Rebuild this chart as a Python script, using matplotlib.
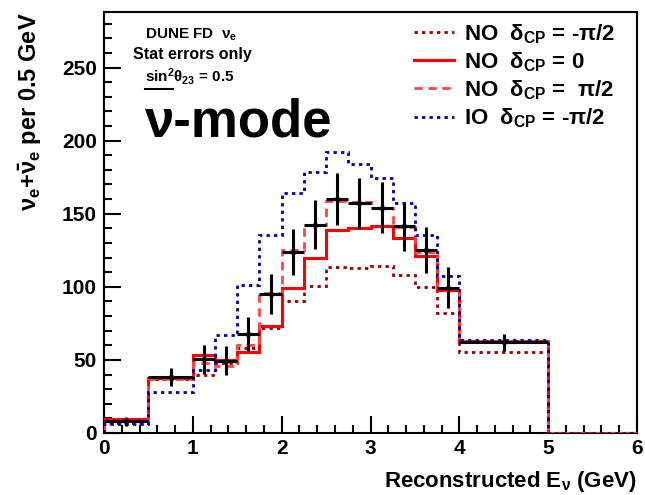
import numpy as np
import matplotlib
matplotlib.use("Agg")
import matplotlib.pyplot as plt

plt.rcParams["font.family"] = ["Liberation Sans", "DejaVu Sans"]
plt.rcParams["font.weight"] = "bold"
plt.rcParams["axes.labelweight"] = "bold"
plt.rcParams["mathtext.fontset"] = "custom"
plt.rcParams["mathtext.rm"] = "Liberation Sans:bold"
plt.rcParams["mathtext.bf"] = "Liberation Sans:bold"
plt.rcParams["mathtext.it"] = "Liberation Sans:bold"
plt.rcParams["mathtext.default"] = "regular"

# bin edges (GeV)
edges = [0, 0.5, 1.0, 1.25, 1.5, 1.75, 2.0, 2.25, 2.5, 2.75, 3.0, 3.25, 3.5, 3.75, 4.0, 5.0, 6.0]

# expected spectra, events per 0.5 GeV
no_mpi2 = [7, 37, 39.7, 47.7, 58, 72, 90, 100.5, 113.5, 113, 114, 108, 100, 82, 55.7, 0]
no_zero = [9.4, 37.5, 53.4, 50, 55.7, 73.5, 99, 119.5, 139, 140.5, 141.5, 133.5, 121, 98, 63.2, 0]
no_ppi2 = [8, 37, 48, 46, 60, 96, 125, 142.5, 159, 158, 154, 141, 124, 99, 63, 0]
io_mpi2 = [6, 28.3, 43, 67, 101, 135.5, 164.5, 178.5, 192.5, 184, 174.5, 157.5, 135.5, 107.5, 63.7, 0]

# pseudo-data points
data_x = [0.25, 0.75, 1.125, 1.375, 1.625, 1.875, 2.125, 2.375, 2.625, 2.875, 3.125, 3.375, 3.625, 3.875, 4.5]
data_xerr = [0.25, 0.25, 0.125, 0.125, 0.125, 0.125, 0.125, 0.125, 0.125, 0.125, 0.125, 0.125, 0.125, 0.125, 0.5]
data_y = [8, 38.5, 50.5, 49.5, 67.5, 95, 124, 142.5, 160, 157, 154, 141.5, 125, 99.5, 62]
data_yerr = [2.9, 6.2, 10, 10, 11.6, 13.8, 15.7, 16.9, 17.9, 17.7, 17.5, 16.8, 15.8, 14.1, 5.6]

fig = plt.figure(figsize=(6.45, 4.95), dpi=100)
ax = fig.add_axes([104 / 645, 62 / 495, 533 / 645, 421 / 495])

h1 = ax.stairs(no_mpi2, edges, color="#990000", lw=2.0, linestyle=(0, (1.2, 1.5)),
               zorder=3, label=r"NO  $\delta_{CP}$ = -$\pi$/2")
h2 = ax.stairs(no_zero, edges, color="#ff0000", lw=2.2, linestyle="-",
               zorder=3, label=r"NO  $\delta_{CP}$ = 0")
h3 = ax.stairs(no_ppi2, edges, color="#ff4444", lw=2.0, linestyle=(0, (3, 2)),
               zorder=3, label=r"NO  $\delta_{CP}$ =  $\pi$/2")
h4 = ax.stairs(io_mpi2, edges, color="#0000aa", lw=2.0, linestyle=(0, (1.2, 1.5)),
               zorder=3, label=r"IO  $\delta_{CP}$ = -$\pi$/2")

ax.errorbar(data_x, data_y, xerr=data_xerr, yerr=data_yerr, fmt="o", ms=3,
            color="black", ecolor="black", elinewidth=2.2, capsize=0, zorder=4)

ax.set_xlim(0, 6)
ax.set_ylim(0, 288)
ax.set_xticks(np.arange(0, 7, 1))
ax.set_xticks(np.arange(0, 6.01, 0.2), minor=True)
ax.set_yticks(np.arange(0, 300, 50))
ax.set_yticks(np.arange(0, 288, 10), minor=True)
ax.tick_params(which="both", direction="in", top=False, right=False, width=1.5,
               labelsize=15)
ax.tick_params(which="major", length=12)
ax.tick_params(which="minor", length=6)
ax.tick_params(axis="x", pad=4)
ax.tick_params(axis="y", pad=5)
for s in ax.spines.values():
    s.set_linewidth(1.5)

ax.set_xlabel(r"Reconstructed E$_{\nu}$ (GeV)", fontsize=16, loc="right", labelpad=8)
ax.set_ylabel(r"$\nu_{e}$+$\bar{\nu}_{e}$ per 0.5 GeV", fontsize=17, loc="top", labelpad=13)

leg = ax.legend(handles=[h1, h2, h3, h4], loc="upper right", frameon=False,
                fontsize=16, handlelength=1.8, labelspacing=0.2,
                borderaxespad=0.0, handletextpad=0.45,
                bbox_to_anchor=(0.976, 0.997))

ax.text(0.077, 0.966, r"DUNE FD  $\nu_{e}$", transform=ax.transAxes, fontsize=11, va="top")
ax.text(0.055, 0.918, "Stat errors only", transform=ax.transAxes, fontsize=11.5, va="top")
ax.text(0.077, 0.872, r"sin$^{2}\theta_{23}$ = 0.5", transform=ax.transAxes,
        fontsize=11, va="top")
# underline below "sin", as in the original ROOT label
ax.plot([0.077, 0.13], [0.818, 0.818], transform=ax.transAxes, color="black", lw=1.5)
ax.text(0.077, 0.705, "ν-mode", transform=ax.transAxes, fontsize=38, fontweight="bold",
        va="baseline")

fig.savefig("out.png", dpi=100, facecolor="white")
